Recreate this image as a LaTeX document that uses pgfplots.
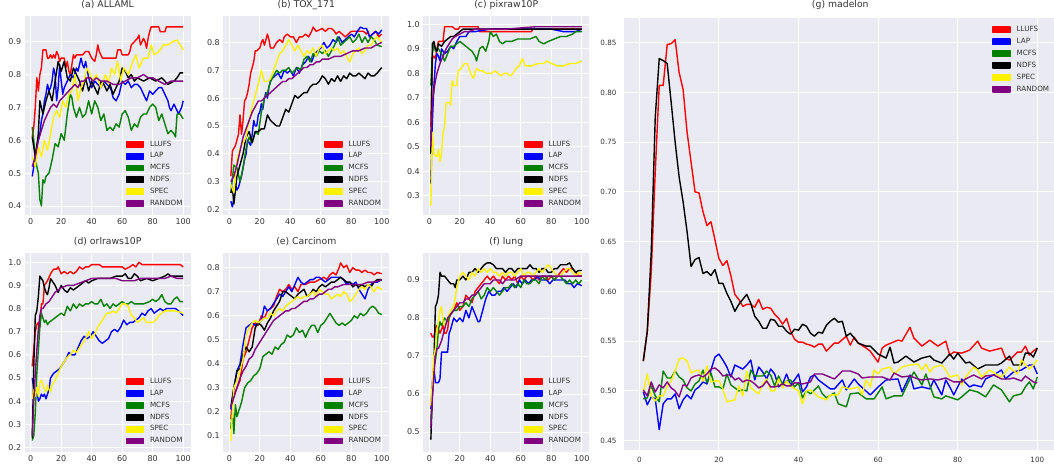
\documentclass[border=0pt]{standalone}
\usepackage{pgfplots}
\pgfplotsset{compat=1.18}
\usepackage{fontspec}
\setmainfont{DejaVu Sans}
\definecolor{sbbg}{HTML}{EAEAF2}
\definecolor{tickcol}{HTML}{333333}
\definecolor{mgreen}{HTML}{008000}
\definecolor{mpurple}{HTML}{800080}
\pgfplotsset{
  s1/.style={color=red}, s2/.style={color=blue}, s3/.style={color=mgreen},
  s4/.style={color=black}, s5/.style={color=yellow}, s6/.style={color=mpurple},
  sbbase/.style={
    scale only axis,
    axis background/.style={fill=sbbg},
    axis line style={draw=none},
    grid=major, major grid style={draw=white, line width=0.9pt},
    tick style={draw=none},
    xmin=-3.95, xmax=104.95, xtick={0,20,...,100},
    /pgf/number format/assume math mode=true,
    tick label style={text=tickcol},
    title style={at={(0.5,1)}, anchor=base, text=tickcol},
    legend cell align=left,
    legend image code/.code={\fill[#1] (0pt,-2.75pt) rectangle (17pt,2.75pt);},
    legend style={draw=none, fill=none, inner sep=0pt, outer sep=0pt,
      font=\fontsize{7.2}{8}\selectfont, text=tickcol,
      nodes={inner sep=0pt, text height=5.2pt, text depth=1.5pt},
      row sep=5pt, column sep=6pt},
    every axis plot/.append style={line width=1.4pt, line join=round, mark=none},
  },
  sb/.style={sbbase, width=166pt, height=199.5pt,
    tick label style={font=\fontsize{8}{9}\selectfont},
    y tick label style={/pgf/number format/.cd, fixed, fixed zerofill, precision=1, /tikz/.cd},
    title style={yshift=2.5pt, font=\fontsize{9.3}{11}\selectfont},
    legend style={at={(0.608,0.373)}, anchor=north west},
  },
}
\begin{document}
\begin{tikzpicture}
\useasboundingbox (0,0) rectangle (1054pt,465pt);
% (a)
\begin{axis}[sb, at={(24.7pt,249.8pt)}, anchor=south west, title={(a) ALLAML},
  ymin=0.372, ymax=0.979, ytick={0.4,0.5,...,0.9}]
\addplot[s1] coordinates {(1,0.61)(2,0.64)(3,0.70)(4,0.79)(5,0.75)(6,0.80)(7,0.82)(8,0.875)(10,0.875)(11,0.85)(12,0.85)(13,0.86)(14,0.85)(15,0.86)(16,0.85)(17,0.87)(18,0.86)(19,0.84)(20,0.85)(22,0.85)(23,0.82)(24,0.84)(25,0.81)(26,0.80)(27,0.83)(28,0.86)(29,0.85)(30,0.86)(32,0.86)(34,0.86)(36,0.87)(38,0.87)(40,0.85)(42,0.84)(43,0.86)(44,0.89)(45,0.87)(46,0.86)(47,0.85)(56,0.85)(57,0.875)(59,0.875)(60,0.86)(64,0.86)(65,0.87)(66,0.89)(68,0.90)(70,0.91)(71,0.92)(72,0.89)(74,0.91)(75,0.90)(76,0.88)(77,0.91)(78,0.93)(79,0.945)(84,0.945)(85,0.93)(88,0.93)(89,0.945)(100,0.945)};
\addplot[s2] coordinates {(1,0.49)(2,0.52)(3,0.55)(4,0.58)(5,0.60)(6,0.62)(7,0.66)(8,0.68)(9,0.72)(10,0.74)(11,0.77)(12,0.75)(13,0.76)(14,0.78)(15,0.82)(16,0.80)(17,0.72)(18,0.76)(19,0.83)(20,0.78)(21,0.74)(22,0.76)(24,0.78)(26,0.80)(28,0.79)(30,0.82)(31,0.81)(33,0.85)(34,0.83)(35,0.82)(36,0.84)(38,0.79)(40,0.76)(42,0.78)(44,0.77)(46,0.76)(48,0.78)(50,0.77)(52,0.76)(53,0.75)(54,0.73)(56,0.72)(58,0.74)(60,0.78)(62,0.77)(64,0.78)(66,0.76)(68,0.77)(70,0.77)(72,0.76)(74,0.74)(76,0.72)(78,0.75)(80,0.74)(82,0.75)(84,0.76)(86,0.76)(88,0.74)(90,0.72)(91,0.70)(92,0.69)(94,0.71)(96,0.69)(97,0.68)(99,0.70)(100,0.72)};
\addplot[s3] coordinates {(1,0.64)(2,0.60)(3,0.55)(4,0.52)(5,0.50)(6,0.42)(7,0.40)(8,0.48)(9,0.47)(10,0.49)(12,0.50)(14,0.54)(16,0.59)(18,0.58)(20,0.62)(22,0.60)(24,0.68)(26,0.74)(27,0.73)(28,0.70)(30,0.67)(32,0.70)(34,0.67)(36,0.68)(38,0.72)(40,0.68)(42,0.72)(44,0.70)(46,0.66)(48,0.68)(50,0.63)(52,0.64)(54,0.63)(56,0.65)(58,0.64)(60,0.68)(62,0.69)(64,0.67)(66,0.63)(68,0.65)(70,0.64)(72,0.67)(74,0.68)(76,0.68)(78,0.70)(80,0.71)(82,0.70)(84,0.66)(86,0.68)(88,0.65)(90,0.62)(92,0.63)(94,0.62)(95,0.61)(96,0.68)(98,0.68)(100,0.665)};
\addplot[s4] coordinates {(1,0.61)(3,0.55)(5,0.62)(6,0.72)(8,0.68)(10,0.72)(12,0.75)(14,0.72)(16,0.78)(18,0.84)(20,0.81)(22,0.84)(24,0.79)(26,0.78)(28,0.82)(30,0.80)(32,0.78)(34,0.75)(36,0.79)(38,0.75)(40,0.78)(42,0.76)(44,0.74)(46,0.78)(48,0.77)(50,0.75)(52,0.77)(54,0.74)(56,0.76)(58,0.78)(60,0.82)(62,0.81)(64,0.79)(66,0.80)(68,0.78)(70,0.79)(74,0.78)(78,0.79)(82,0.78)(86,0.79)(90,0.77)(94,0.78)(96,0.79)(98,0.805)(100,0.805)};
\addplot[s5] coordinates {(1,0.55)(3,0.52)(5,0.58)(7,0.55)(9,0.60)(11,0.57)(13,0.62)(15,0.67)(17,0.69)(19,0.67)(21,0.72)(23,0.70)(25,0.74)(27,0.75)(29,0.80)(31,0.72)(33,0.76)(35,0.78)(37,0.82)(39,0.80)(41,0.78)(43,0.80)(46,0.76)(49,0.80)(51,0.77)(53,0.82)(55,0.80)(57,0.84)(59,0.78)(61,0.82)(64,0.80)(67,0.84)(69,0.86)(71,0.82)(74,0.85)(77,0.85)(79,0.89)(81,0.86)(84,0.87)(87,0.89)(90,0.89)(93,0.90)(96,0.905)(98,0.89)(100,0.875)};
\addplot[s6] coordinates {(1,0.52)(3,0.55)(5,0.60)(7,0.63)(9,0.66)(11,0.68)(13,0.70)(15,0.71)(17,0.70)(19,0.72)(21,0.73)(23,0.74)(25,0.75)(27,0.76)(29,0.77)(31,0.76)(33,0.78)(35,0.78)(37,0.79)(39,0.79)(41,0.78)(43,0.79)(46,0.78)(50,0.78)(54,0.77)(58,0.77)(62,0.78)(66,0.79)(70,0.79)(74,0.80)(77,0.79)(80,0.79)(84,0.78)(88,0.77)(92,0.78)(96,0.78)(100,0.78)};
\legend{LLUFS,LAP,MCFS,NDFS,SPEC,RANDOM}
\end{axis}
% (b)
\begin{axis}[sb, at={(223.3pt,249.8pt)}, anchor=south west, title={(b) TOX\_171},
  ymin=0.18, ymax=0.896, ytick={0.2,0.3,...,0.8}]
\addplot[s1] coordinates {(1,0.32)(2,0.41)(3,0.42)(4,0.43)(5,0.45)(6,0.47)(7,0.54)(8,0.47)(9,0.52)(10,0.59)(11,0.60)(12,0.62)(13,0.65)(14,0.69)(15,0.71)(16,0.73)(17,0.77)(18,0.77)(20,0.78)(21,0.80)(22,0.81)(23,0.79)(24,0.81)(25,0.83)(26,0.81)(27,0.78)(29,0.78)(30,0.79)(31,0.80)(33,0.81)(35,0.80)(36,0.82)(38,0.83)(40,0.82)(42,0.82)(44,0.80)(46,0.82)(48,0.82)(50,0.83)(52,0.82)(54,0.84)(55,0.855)(57,0.84)(59,0.845)(61,0.85)(63,0.84)(65,0.85)(67,0.85)(69,0.84)(70,0.83)(72,0.84)(74,0.83)(76,0.82)(78,0.83)(80,0.84)(82,0.84)(84,0.84)(86,0.84)(88,0.84)(90,0.83)(91,0.84)(92,0.82)(94,0.83)(96,0.84)(98,0.82)(100,0.83)};
\addplot[s2] coordinates {(1,0.23)(2,0.21)(3,0.24)(4,0.29)(5,0.27)(6,0.28)(7,0.30)(8,0.32)(9,0.35)(10,0.38)(11,0.40)(12,0.45)(13,0.44)(14,0.43)(15,0.47)(16,0.52)(17,0.50)(18,0.50)(19,0.54)(20,0.55)(21,0.58)(22,0.56)(23,0.60)(24,0.62)(25,0.60)(26,0.64)(27,0.66)(28,0.67)(30,0.68)(32,0.69)(34,0.67)(36,0.70)(38,0.69)(40,0.70)(42,0.68)(44,0.71)(46,0.69)(48,0.72)(50,0.73)(52,0.75)(54,0.73)(56,0.76)(58,0.77)(60,0.78)(62,0.80)(64,0.78)(66,0.79)(68,0.81)(70,0.80)(72,0.82)(74,0.80)(76,0.81)(78,0.82)(80,0.83)(82,0.82)(84,0.84)(86,0.855)(88,0.85)(90,0.85)(92,0.82)(94,0.83)(96,0.84)(98,0.83)(100,0.845)};
\addplot[s3] coordinates {(1,0.26)(3,0.36)(5,0.35)(7,0.30)(9,0.35)(11,0.42)(13,0.46)(15,0.44)(17,0.48)(19,0.47)(21,0.55)(23,0.60)(25,0.62)(27,0.66)(29,0.68)(31,0.70)(33,0.69)(35,0.70)(37,0.70)(39,0.71)(41,0.69)(43,0.70)(45,0.71)(47,0.70)(49,0.74)(51,0.75)(53,0.73)(55,0.76)(57,0.75)(59,0.77)(61,0.76)(63,0.77)(65,0.75)(67,0.77)(69,0.79)(71,0.82)(73,0.79)(75,0.80)(77,0.81)(79,0.82)(81,0.80)(83,0.81)(85,0.83)(87,0.80)(89,0.82)(91,0.80)(93,0.82)(95,0.81)(97,0.79)(100,0.785)};
\addplot[s4] coordinates {(1,0.26)(2,0.28)(3,0.22)(5,0.32)(7,0.36)(9,0.40)(11,0.46)(13,0.48)(15,0.44)(17,0.48)(19,0.48)(21,0.49)(23,0.49)(25,0.54)(27,0.52)(29,0.51)(31,0.50)(33,0.50)(35,0.53)(37,0.56)(39,0.55)(41,0.58)(43,0.61)(45,0.60)(47,0.61)(49,0.62)(51,0.62)(53,0.64)(55,0.65)(57,0.65)(59,0.66)(61,0.68)(63,0.67)(65,0.65)(67,0.67)(69,0.66)(71,0.68)(73,0.66)(75,0.68)(77,0.67)(79,0.69)(81,0.68)(83,0.68)(85,0.69)(87,0.68)(89,0.67)(91,0.69)(93,0.68)(95,0.68)(97,0.69)(100,0.71)};
\addplot[s5] coordinates {(1,0.29)(3,0.26)(5,0.38)(7,0.42)(9,0.44)(11,0.46)(13,0.52)(15,0.57)(17,0.61)(19,0.65)(21,0.70)(23,0.66)(25,0.66)(27,0.67)(29,0.70)(31,0.73)(33,0.76)(35,0.77)(37,0.79)(39,0.81)(41,0.79)(43,0.77)(45,0.79)(47,0.77)(49,0.75)(51,0.77)(53,0.76)(55,0.78)(57,0.75)(59,0.78)(61,0.79)(63,0.76)(65,0.77)(67,0.78)(69,0.77)(71,0.78)(73,0.76)(75,0.77)(77,0.75)(79,0.73)(81,0.76)(83,0.77)(85,0.78)(87,0.76)(89,0.77)(91,0.79)(93,0.79)(95,0.81)(97,0.82)(100,0.80)};
\addplot[s6] coordinates {(1,0.30)(3,0.32)(5,0.36)(7,0.41)(9,0.46)(11,0.49)(13,0.52)(15,0.55)(17,0.57)(19,0.59)(21,0.59)(23,0.60)(25,0.61)(27,0.62)(29,0.63)(31,0.64)(33,0.65)(35,0.66)(37,0.66)(39,0.67)(41,0.67)(43,0.68)(45,0.69)(47,0.70)(49,0.71)(51,0.71)(53,0.72)(55,0.72)(57,0.73)(59,0.73)(61,0.74)(65,0.74)(69,0.75)(73,0.75)(77,0.76)(81,0.77)(85,0.77)(89,0.78)(93,0.78)(96,0.79)(100,0.80)};
\legend{LLUFS,LAP,MCFS,NDFS,SPEC,RANDOM}
\end{axis}
% (c)
\begin{axis}[sb, at={(423.3pt,249.8pt)}, anchor=south west, title={(c) pixraw10P},
  ymin=0.221, ymax=1.035, ytick={0.3,0.4,...,1.0}]
\addplot[s1] coordinates {(1,0.58)(2,0.86)(3,0.87)(4,0.86)(5,0.90)(6,0.93)(9,0.93)(10,0.99)(15,0.99)(17,0.98)(19,0.98)(20,0.99)(25,0.99)(32,0.99)(33,0.97)(67,0.97)(68,0.98)(100,0.98)};
\addplot[s2] coordinates {(1,0.35)(2,0.60)(3,0.75)(4,0.84)(5,0.88)(6,0.87)(7,0.85)(8,0.90)(10,0.88)(12,0.89)(14,0.91)(16,0.90)(18,0.93)(20,0.95)(22,0.95)(24,0.95)(26,0.97)(30,0.97)(40,0.98)(60,0.98)(80,0.98)(88,0.97)(92,0.97)(96,0.97)(100,0.98)};
\addplot[s3] coordinates {(1,0.75)(2,0.88)(3,0.92)(4,0.89)(6,0.90)(8,0.88)(10,0.85)(12,0.88)(14,0.91)(16,0.91)(18,0.92)(20,0.93)(22,0.92)(24,0.91)(26,0.90)(28,0.89)(30,0.87)(31,0.85)(33,0.90)(35,0.91)(37,0.89)(39,0.93)(40,0.97)(42,0.95)(44,0.96)(46,0.93)(48,0.92)(50,0.93)(54,0.93)(58,0.94)(62,0.94)(66,0.94)(70,0.95)(72,0.93)(75,0.92)(78,0.93)(82,0.94)(86,0.95)(90,0.95)(94,0.96)(96,0.97)(100,0.97)};
\addplot[s4] coordinates {(1,0.47)(2,0.92)(3,0.93)(4,0.90)(5,0.89)(6,0.92)(8,0.91)(10,0.93)(12,0.94)(14,0.95)(16,0.95)(18,0.96)(20,0.97)(22,0.98)(30,0.98)(40,0.98)(50,0.98)(60,0.98)(70,0.98)(80,0.98)(90,0.98)(100,0.98)};
\addplot[s5] coordinates {(1,0.26)(2,0.56)(3,0.47)(5,0.46)(6,0.49)(7,0.44)(8,0.47)(9,0.56)(10,0.58)(11,0.68)(13,0.68)(14,0.67)(15,0.77)(16,0.75)(18,0.75)(19,0.81)(21,0.82)(23,0.84)(25,0.84)(27,0.80)(29,0.78)(31,0.82)(33,0.81)(35,0.81)(37,0.80)(39,0.80)(41,0.80)(43,0.81)(45,0.80)(47,0.79)(49,0.80)(51,0.80)(53,0.79)(55,0.80)(57,0.82)(59,0.83)(61,0.86)(63,0.83)(67,0.83)(71,0.84)(75,0.84)(77,0.85)(80,0.84)(84,0.83)(88,0.83)(92,0.84)(96,0.84)(100,0.85)};
\addplot[s6] coordinates {(1,0.50)(2,0.68)(3,0.73)(4,0.77)(5,0.80)(7,0.84)(9,0.87)(11,0.90)(13,0.92)(15,0.94)(17,0.95)(20,0.96)(23,0.97)(26,0.97)(30,0.98)(40,0.98)(50,0.98)(60,0.985)(70,0.99)(80,0.99)(90,0.99)(100,0.99)};
\legend{LLUFS,LAP,MCFS,NDFS,SPEC,RANDOM}
\end{axis}
% (d)
\begin{axis}[sb, at={(24.7pt,12.5pt)}, anchor=south west, title={(d) orlraws10P},
  ymin=0.178, ymax=1.040, ytick={0.2,0.3,...,1.0}]
\addplot[s1] coordinates {(1,0.55)(2,0.62)(3,0.70)(4,0.73)(5,0.74)(6,0.72)(7,0.82)(8,0.82)(9,0.90)(11,0.92)(13,0.95)(15,0.97)(17,0.97)(18,0.98)(20,0.95)(22,0.96)(24,0.95)(26,0.96)(28,0.95)(30,0.96)(32,0.98)(34,0.97)(36,0.98)(38,0.98)(40,0.99)(45,0.99)(47,0.98)(55,0.98)(60,0.98)(62,0.97)(65,0.98)(67,0.99)(69,0.98)(71,1.0)(73,0.99)(80,0.99)(90,0.99)(98,0.99)(100,0.98)};
\addplot[s2] coordinates {(1,0.50)(2,0.46)(3,0.43)(4,0.45)(5,0.40)(6,0.41)(7,0.43)(8,0.42)(9,0.43)(10,0.41)(11,0.43)(12,0.45)(13,0.50)(15,0.52)(17,0.53)(19,0.54)(21,0.56)(23,0.58)(25,0.61)(27,0.60)(29,0.60)(31,0.63)(33,0.66)(35,0.68)(37,0.67)(39,0.68)(41,0.70)(43,0.68)(45,0.66)(47,0.65)(49,0.66)(51,0.67)(53,0.70)(55,0.71)(57,0.70)(59,0.72)(61,0.75)(63,0.73)(65,0.74)(67,0.74)(69,0.75)(71,0.76)(73,0.78)(75,0.77)(77,0.79)(79,0.80)(81,0.78)(83,0.79)(85,0.80)(87,0.79)(89,0.80)(91,0.80)(93,0.80)(95,0.80)(97,0.79)(100,0.77)};
\addplot[s3] coordinates {(1,0.23)(2,0.25)(3,0.35)(4,0.52)(5,0.62)(6,0.72)(7,0.78)(8,0.76)(9,0.74)(10,0.75)(11,0.73)(12,0.74)(14,0.75)(16,0.76)(18,0.77)(20,0.78)(22,0.77)(24,0.81)(26,0.79)(28,0.82)(30,0.80)(32,0.82)(34,0.81)(36,0.82)(38,0.82)(40,0.83)(42,0.82)(44,0.82)(46,0.84)(48,0.81)(50,0.82)(52,0.80)(54,0.82)(56,0.81)(58,0.82)(60,0.83)(62,0.82)(64,0.82)(66,0.83)(68,0.82)(70,0.82)(74,0.82)(78,0.83)(80,0.84)(82,0.83)(84,0.84)(86,0.86)(88,0.83)(90,0.82)(92,0.82)(94,0.84)(96,0.85)(98,0.83)(100,0.83)};
\addplot[s4] coordinates {(1,0.24)(2,0.55)(3,0.77)(4,0.79)(5,0.85)(6,0.94)(7,0.93)(8,0.92)(9,0.89)(10,0.87)(11,0.86)(12,0.89)(13,0.93)(14,0.92)(16,0.90)(18,0.87)(20,0.90)(22,0.88)(24,0.87)(26,0.89)(28,0.88)(30,0.89)(32,0.90)(34,0.91)(36,0.92)(38,0.91)(40,0.92)(44,0.93)(48,0.93)(52,0.93)(56,0.94)(60,0.94)(62,0.95)(64,0.93)(66,0.93)(68,0.95)(70,0.94)(72,0.92)(76,0.93)(80,0.92)(84,0.93)(88,0.94)(90,0.95)(92,0.94)(96,0.94)(100,0.94)};
\addplot[s5] coordinates {(1,0.41)(2,0.45)(3,0.42)(4,0.46)(5,0.42)(6,0.48)(7,0.49)(8,0.47)(9,0.45)(10,0.44)(11,0.47)(12,0.45)(13,0.44)(14,0.47)(16,0.49)(18,0.52)(20,0.55)(22,0.57)(24,0.59)(26,0.60)(28,0.62)(30,0.61)(32,0.63)(34,0.65)(36,0.67)(38,0.70)(40,0.67)(42,0.69)(44,0.72)(46,0.74)(48,0.76)(50,0.78)(52,0.78)(54,0.79)(56,0.78)(58,0.80)(60,0.82)(62,0.82)(64,0.81)(66,0.77)(68,0.76)(70,0.74)(72,0.75)(74,0.76)(76,0.74)(78,0.74)(80,0.74)(82,0.75)(84,0.77)(86,0.78)(88,0.79)(90,0.79)(95,0.79)(100,0.78)};
\addplot[s6] coordinates {(1,0.25)(2,0.40)(3,0.52)(4,0.62)(5,0.71)(6,0.77)(7,0.80)(8,0.80)(10,0.82)(12,0.83)(14,0.85)(16,0.87)(18,0.88)(20,0.89)(24,0.90)(28,0.90)(32,0.91)(36,0.92)(40,0.93)(44,0.93)(48,0.93)(52,0.93)(56,0.93)(60,0.92)(64,0.92)(68,0.92)(72,0.93)(76,0.93)(80,0.93)(84,0.93)(88,0.93)(92,0.94)(96,0.93)(100,0.93)};
\legend{LLUFS,LAP,MCFS,NDFS,SPEC,RANDOM}
\end{axis}
% (e)
\begin{axis}[sb, at={(223.3pt,12.5pt)}, anchor=south west, title={(e) Carcinom},
  ymin=0.031, ymax=0.861, ytick={0.1,0.2,...,0.8}]
\addplot[s1] coordinates {(1,0.17)(2,0.25)(3,0.27)(5,0.30)(7,0.33)(9,0.42)(11,0.45)(13,0.50)(15,0.55)(17,0.57)(19,0.56)(21,0.60)(23,0.59)(25,0.62)(27,0.63)(29,0.64)(31,0.68)(33,0.71)(35,0.70)(37,0.71)(39,0.73)(41,0.71)(43,0.72)(45,0.70)(47,0.73)(50,0.73)(53,0.74)(56,0.74)(59,0.75)(62,0.76)(64,0.75)(66,0.77)(68,0.78)(70,0.77)(72,0.80)(73,0.82)(75,0.80)(77,0.81)(79,0.78)(81,0.80)(83,0.79)(85,0.79)(87,0.78)(89,0.79)(91,0.78)(93,0.78)(95,0.77)(97,0.78)(100,0.775)};
\addplot[s2] coordinates {(1,0.21)(3,0.30)(5,0.37)(7,0.40)(9,0.48)(11,0.55)(13,0.56)(15,0.57)(17,0.56)(19,0.57)(21,0.58)(23,0.64)(25,0.62)(27,0.63)(29,0.65)(31,0.67)(33,0.69)(35,0.68)(37,0.70)(39,0.72)(41,0.70)(43,0.73)(45,0.76)(47,0.74)(49,0.73)(51,0.74)(53,0.75)(55,0.75)(57,0.76)(59,0.76)(61,0.75)(63,0.74)(65,0.75)(67,0.76)(69,0.76)(71,0.76)(73,0.76)(75,0.75)(77,0.73)(79,0.74)(81,0.73)(83,0.74)(85,0.71)(87,0.69)(89,0.67)(91,0.71)(93,0.73)(95,0.74)(97,0.74)(100,0.75)};
\addplot[s3] coordinates {(1,0.13)(2,0.20)(3,0.11)(4,0.23)(5,0.18)(6,0.20)(8,0.24)(10,0.30)(12,0.32)(14,0.33)(16,0.35)(18,0.36)(20,0.38)(22,0.43)(24,0.44)(26,0.45)(28,0.44)(30,0.47)(32,0.46)(34,0.48)(36,0.49)(38,0.52)(40,0.51)(42,0.52)(44,0.55)(46,0.53)(48,0.54)(50,0.51)(52,0.54)(54,0.56)(56,0.56)(58,0.53)(60,0.56)(62,0.57)(64,0.59)(66,0.61)(68,0.59)(70,0.57)(72,0.56)(74,0.57)(76,0.56)(78,0.57)(80,0.58)(82,0.60)(84,0.59)(86,0.61)(88,0.60)(90,0.61)(92,0.63)(94,0.64)(96,0.63)(98,0.61)(100,0.605)};
\addplot[s4] coordinates {(1,0.22)(3,0.30)(5,0.37)(7,0.38)(9,0.44)(11,0.47)(13,0.45)(15,0.47)(17,0.55)(19,0.57)(21,0.56)(23,0.54)(25,0.57)(27,0.59)(29,0.62)(31,0.64)(33,0.66)(35,0.70)(37,0.70)(39,0.69)(41,0.68)(43,0.67)(45,0.69)(47,0.70)(49,0.71)(51,0.68)(53,0.69)(55,0.71)(57,0.70)(59,0.72)(61,0.73)(63,0.72)(65,0.73)(67,0.74)(69,0.74)(71,0.75)(73,0.76)(75,0.75)(77,0.74)(79,0.74)(81,0.72)(83,0.73)(85,0.72)(87,0.73)(89,0.72)(91,0.73)(93,0.72)(95,0.74)(97,0.75)(100,0.75)};
\addplot[s5] coordinates {(1,0.08)(2,0.20)(3,0.30)(5,0.33)(7,0.37)(9,0.42)(11,0.52)(13,0.55)(15,0.57)(17,0.58)(19,0.57)(21,0.58)(23,0.59)(25,0.59)(27,0.61)(29,0.60)(31,0.62)(33,0.63)(35,0.62)(37,0.64)(39,0.65)(41,0.66)(43,0.67)(45,0.68)(47,0.67)(49,0.68)(51,0.68)(53,0.69)(55,0.70)(57,0.68)(59,0.71)(61,0.70)(63,0.69)(65,0.69)(67,0.67)(69,0.68)(71,0.69)(73,0.68)(75,0.70)(77,0.69)(79,0.66)(81,0.67)(83,0.69)(85,0.71)(87,0.72)(89,0.71)(91,0.73)(93,0.72)(95,0.70)(97,0.72)(100,0.71)};
\addplot[s6] coordinates {(1,0.22)(3,0.26)(5,0.30)(7,0.34)(9,0.37)(11,0.39)(13,0.42)(15,0.43)(17,0.46)(19,0.48)(21,0.50)(23,0.52)(25,0.54)(27,0.56)(29,0.58)(31,0.59)(33,0.60)(35,0.61)(37,0.62)(39,0.62)(41,0.63)(43,0.63)(45,0.64)(47,0.65)(49,0.66)(51,0.66)(53,0.67)(55,0.67)(57,0.68)(59,0.69)(61,0.69)(63,0.70)(65,0.71)(67,0.71)(69,0.72)(71,0.72)(75,0.73)(79,0.73)(83,0.73)(87,0.73)(91,0.74)(95,0.74)(100,0.75)};
\legend{LLUFS,LAP,MCFS,NDFS,SPEC,RANDOM}
\end{axis}
% (f)
\begin{axis}[sb, at={(423.3pt,12.5pt)}, anchor=south west, title={(f) lung},
  ymin=0.446, ymax=0.971, ytick={0.5,0.6,...,0.9}]
\addplot[s1] coordinates {(1,0.76)(2,0.75)(3,0.75)(4,0.77)(5,0.78)(6,0.77)(7,0.76)(8,0.77)(9,0.78)(10,0.76)(11,0.76)(12,0.77)(13,0.80)(14,0.81)(16,0.82)(18,0.84)(20,0.82)(22,0.83)(24,0.86)(26,0.85)(28,0.84)(30,0.87)(32,0.88)(34,0.89)(36,0.90)(38,0.91)(40,0.90)(42,0.91)(44,0.90)(46,0.89)(48,0.91)(50,0.90)(52,0.91)(54,0.90)(56,0.91)(58,0.89)(60,0.91)(62,0.90)(64,0.91)(66,0.91)(68,0.90)(70,0.91)(72,0.90)(74,0.91)(76,0.91)(78,0.90)(80,0.91)(82,0.90)(84,0.91)(86,0.92)(88,0.93)(90,0.92)(92,0.93)(94,0.93)(96,0.92)(98,0.91)(100,0.91)};
\addplot[s2] coordinates {(1,0.56)(2,0.63)(3,0.67)(4,0.63)(5,0.63)(6,0.63)(7,0.64)(8,0.71)(10,0.71)(12,0.71)(13,0.76)(14,0.77)(16,0.80)(18,0.79)(20,0.80)(22,0.79)(24,0.82)(26,0.80)(28,0.83)(30,0.81)(32,0.79)(33,0.79)(35,0.82)(37,0.85)(39,0.87)(41,0.86)(43,0.86)(45,0.87)(47,0.87)(49,0.88)(51,0.87)(53,0.88)(55,0.89)(57,0.88)(59,0.90)(61,0.89)(63,0.90)(65,0.89)(67,0.90)(69,0.90)(71,0.91)(73,0.90)(75,0.90)(77,0.90)(79,0.89)(81,0.90)(83,0.90)(85,0.90)(87,0.90)(89,0.90)(91,0.89)(93,0.89)(95,0.88)(97,0.89)(100,0.885)};
\addplot[s3] coordinates {(1,0.53)(2,0.60)(3,0.67)(4,0.69)(5,0.72)(6,0.77)(7,0.79)(8,0.78)(10,0.80)(12,0.79)(14,0.81)(16,0.82)(18,0.82)(20,0.83)(22,0.83)(24,0.84)(26,0.83)(28,0.85)(30,0.86)(32,0.87)(34,0.85)(36,0.86)(38,0.88)(40,0.87)(42,0.88)(44,0.87)(46,0.86)(48,0.87)(50,0.88)(52,0.88)(54,0.89)(56,0.88)(58,0.89)(60,0.88)(62,0.90)(64,0.89)(66,0.89)(68,0.90)(70,0.90)(72,0.89)(74,0.91)(76,0.90)(78,0.91)(80,0.91)(82,0.90)(84,0.91)(86,0.91)(88,0.90)(90,0.89)(92,0.90)(94,0.89)(96,0.90)(98,0.89)(100,0.90)};
\addplot[s4] coordinates {(1,0.48)(2,0.60)(3,0.68)(4,0.83)(5,0.84)(6,0.86)(7,0.92)(8,0.91)(10,0.91)(12,0.90)(14,0.89)(16,0.89)(17,0.88)(18,0.90)(20,0.90)(22,0.91)(24,0.90)(26,0.92)(28,0.92)(30,0.93)(32,0.92)(34,0.93)(36,0.94)(38,0.945)(40,0.945)(42,0.94)(44,0.93)(46,0.93)(48,0.93)(50,0.92)(52,0.93)(54,0.93)(56,0.92)(58,0.93)(60,0.93)(62,0.93)(64,0.93)(66,0.94)(68,0.93)(70,0.93)(72,0.92)(74,0.93)(76,0.93)(78,0.92)(80,0.92)(82,0.93)(84,0.93)(86,0.94)(88,0.94)(90,0.94)(92,0.945)(94,0.93)(96,0.92)(98,0.925)(100,0.925)};
\addplot[s5] coordinates {(1,0.57)(2,0.63)(3,0.70)(4,0.72)(5,0.77)(6,0.79)(7,0.82)(8,0.83)(9,0.79)(10,0.78)(12,0.80)(14,0.82)(16,0.83)(18,0.88)(20,0.91)(22,0.92)(24,0.91)(26,0.90)(28,0.92)(30,0.91)(32,0.93)(34,0.92)(36,0.93)(38,0.92)(40,0.93)(42,0.92)(44,0.92)(46,0.91)(48,0.92)(50,0.91)(52,0.92)(54,0.92)(56,0.91)(58,0.92)(60,0.93)(62,0.91)(64,0.92)(66,0.92)(68,0.91)(70,0.92)(72,0.93)(74,0.92)(76,0.93)(78,0.94)(80,0.93)(82,0.92)(84,0.91)(86,0.91)(88,0.92)(90,0.93)(92,0.93)(94,0.92)(96,0.91)(98,0.92)(100,0.915)};
\addplot[s6] coordinates {(1,0.51)(2,0.59)(3,0.65)(4,0.70)(5,0.72)(6,0.72)(7,0.73)(8,0.74)(10,0.77)(12,0.80)(14,0.81)(16,0.82)(18,0.83)(20,0.84)(22,0.84)(24,0.85)(26,0.85)(28,0.86)(30,0.86)(32,0.87)(34,0.88)(36,0.89)(38,0.89)(40,0.89)(42,0.90)(44,0.90)(46,0.90)(48,0.89)(50,0.90)(52,0.90)(56,0.90)(60,0.91)(64,0.91)(68,0.91)(72,0.91)(76,0.91)(80,0.91)(84,0.91)(88,0.91)(92,0.91)(96,0.91)(100,0.91)};
\legend{LLUFS,LAP,MCFS,NDFS,SPEC,RANDOM}
\end{axis}
% (g)
\begin{axis}[sbbase, at={(623.6pt,15pt)}, anchor=south west, width=433.4pt, height=431.7pt,
  title={(g) madelon},
  title style={yshift=4.8pt, font=\fontsize{9.3}{11}\selectfont},
  tick label style={font=\fontsize{7.2}{8}\selectfont},
  y tick label style={/pgf/number format/.cd, fixed, fixed zerofill, precision=2, /tikz/.cd, xshift=-3.6pt},
  x tick label style={yshift=-4pt},
  ymin=0.4406, ymax=0.8745, ytick={0.45,0.5,0.55,0.6,0.65,0.7,0.75,0.8,0.85},
  legend style={at={(0.8507,0.9815)}, anchor=north west}]
\addplot[s1] coordinates {(1,0.53)(2,0.56)(3,0.62)(4,0.72)(5,0.807)(6,0.807)(7,0.848)(8,0.849)(9,0.853)(10,0.82)(11,0.803)(12,0.76)(13,0.73)(14,0.70)(15,0.699)(16,0.68)(17,0.666)(18,0.670)(19,0.652)(20,0.633)(21,0.626)(22,0.631)(23,0.616)(24,0.597)(25,0.592)(26,0.585)(27,0.587)(28,0.587)(29,0.584)(30,0.592)(31,0.582)(32,0.584)(33,0.583)(34,0.577)(35,0.573)(36,0.567)(37,0.573)(38,0.560)(39,0.552)(40,0.549)(41,0.549)(42,0.547)(43,0.546)(44,0.544)(45,0.547)(46,0.547)(47,0.540)(49,0.548)(50,0.548)(52,0.555)(53,0.546)(54,0.554)(55,0.548)(57,0.543)(58,0.540)(60,0.529)(61,0.543)(62,0.546)(65,0.551)(66,0.550)(68,0.564)(69,0.553)(71,0.545)(73,0.551)(75,0.545)(77,0.550)(78,0.536)(79,0.539)(81,0.538)(83,0.541)(85,0.550)(86,0.543)(88,0.540)(91,0.543)(92,0.533)(93,0.531)(95,0.539)(96,0.539)(97,0.545)(98,0.536)(99,0.540)(100,0.543)};
\addplot[s2] coordinates {(1,0.499)(2,0.486)(3,0.494)(4,0.492)(5,0.461)(6,0.487)(7,0.492)(8,0.492)(9,0.497)(10,0.482)(11,0.491)(12,0.496)(13,0.492)(14,0.501)(15,0.504)(16,0.509)(17,0.507)(18,0.521)(19,0.534)(20,0.537)(21,0.531)(22,0.524)(23,0.514)(24,0.526)(25,0.524)(26,0.522)(27,0.526)(28,0.531)(29,0.511)(30,0.524)(31,0.519)(32,0.512)(33,0.522)(34,0.517)(35,0.504)(36,0.507)(37,0.517)(38,0.506)(39,0.511)(40,0.517)(41,0.499)(42,0.504)(43,0.514)(44,0.516)(45,0.511)(47,0.505)(48,0.502)(49,0.502)(51,0.511)(52,0.501)(54,0.512)(55,0.507)(58,0.496)(60,0.504)(62,0.511)(65,0.512)(66,0.499)(68,0.516)(69,0.502)(71,0.504)(73,0.502)(74,0.511)(76,0.496)(77,0.511)(78,0.504)(79,0.496)(81,0.512)(83,0.504)(84,0.506)(86,0.504)(87,0.512)(89,0.516)(91,0.521)(92,0.512)(94,0.519)(96,0.521)(98,0.526)(99,0.526)(100,0.517)};
\addplot[s3] coordinates {(1,0.492)(2,0.493)(3,0.505)(4,0.495)(5,0.489)(6,0.520)(7,0.513)(8,0.513)(9,0.520)(10,0.514)(11,0.511)(12,0.503)(13,0.500)(14,0.507)(15,0.510)(16,0.521)(17,0.508)(18,0.518)(19,0.504)(20,0.504)(21,0.502)(22,0.517)(23,0.506)(24,0.503)(25,0.500)(26,0.501)(27,0.500)(28,0.521)(29,0.515)(30,0.515)(31,0.515)(32,0.520)(33,0.516)(34,0.505)(35,0.515)(36,0.506)(37,0.510)(38,0.511)(39,0.504)(40,0.508)(41,0.493)(42,0.500)(43,0.497)(45,0.505)(46,0.497)(47,0.493)(49,0.498)(50,0.487)(52,0.484)(53,0.497)(55,0.498)(57,0.492)(59,0.492)(61,0.504)(62,0.492)(64,0.495)(66,0.495)(68,0.512)(69,0.519)(71,0.506)(72,0.517)(74,0.494)(76,0.492)(77,0.495)(80,0.491)(81,0.494)(83,0.501)(85,0.499)(87,0.494)(89,0.506)(91,0.501)(93,0.489)(94,0.495)(96,0.497)(97,0.504)(98,0.509)(99,0.502)(100,0.514)};
\addplot[s4] coordinates {(1,0.53)(2,0.56)(3,0.64)(4,0.775)(5,0.834)(6,0.832)(7,0.829)(8,0.79)(9,0.75)(10,0.715)(11,0.69)(12,0.66)(13,0.625)(14,0.632)(15,0.634)(16,0.618)(17,0.620)(18,0.616)(19,0.622)(20,0.608)(21,0.608)(22,0.598)(23,0.590)(24,0.580)(25,0.587)(26,0.592)(27,0.597)(28,0.588)(29,0.575)(30,0.570)(31,0.563)(32,0.563)(33,0.572)(34,0.571)(35,0.565)(36,0.565)(37,0.560)(38,0.557)(39,0.562)(40,0.561)(41,0.567)(42,0.565)(43,0.558)(44,0.555)(45,0.559)(46,0.558)(47,0.566)(48,0.570)(49,0.573)(50,0.569)(51,0.570)(52,0.555)(53,0.558)(55,0.548)(57,0.545)(58,0.545)(60,0.537)(62,0.533)(63,0.544)(64,0.528)(65,0.529)(67,0.535)(69,0.529)(71,0.533)(73,0.535)(74,0.531)(76,0.528)(78,0.537)(79,0.532)(80,0.538)(82,0.528)(83,0.529)(85,0.522)(87,0.526)(90,0.526)(91,0.528)(93,0.535)(94,0.526)(96,0.526)(97,0.538)(98,0.538)(99,0.534)(100,0.543)};
\addplot[s5] coordinates {(1,0.499)(2,0.517)(3,0.495)(4,0.490)(5,0.495)(6,0.495)(7,0.505)(8,0.510)(9,0.520)(10,0.532)(11,0.533)(12,0.530)(13,0.518)(14,0.520)(15,0.521)(16,0.510)(17,0.525)(18,0.509)(19,0.510)(20,0.510)(21,0.502)(22,0.489)(23,0.490)(24,0.491)(25,0.505)(26,0.495)(27,0.520)(28,0.503)(29,0.500)(30,0.497)(31,0.507)(32,0.512)(33,0.500)(34,0.500)(35,0.512)(36,0.503)(37,0.510)(38,0.505)(39,0.502)(40,0.500)(41,0.487)(42,0.500)(43,0.501)(45,0.494)(47,0.491)(48,0.496)(50,0.496)(51,0.504)(53,0.502)(55,0.504)(56,0.496)(57,0.511)(58,0.504)(59,0.521)(60,0.517)(61,0.522)(63,0.524)(64,0.517)(66,0.524)(68,0.526)(70,0.527)(71,0.521)(72,0.527)(73,0.519)(74,0.524)(76,0.526)(77,0.521)(78,0.514)(80,0.516)(81,0.506)(82,0.514)(84,0.524)(85,0.521)(86,0.514)(88,0.521)(90,0.516)(91,0.514)(93,0.524)(95,0.517)(96,0.531)(98,0.522)(99,0.526)(100,0.531)};
\addplot[s6] coordinates {(1,0.501)(2,0.495)(3,0.509)(4,0.499)(5,0.506)(6,0.503)(7,0.509)(8,0.503)(9,0.500)(10,0.494)(11,0.506)(12,0.505)(13,0.513)(14,0.515)(15,0.516)(16,0.514)(17,0.517)(18,0.522)(19,0.523)(20,0.520)(21,0.515)(22,0.516)(23,0.516)(24,0.511)(25,0.513)(26,0.509)(27,0.511)(28,0.510)(29,0.507)(30,0.503)(31,0.505)(32,0.510)(33,0.504)(34,0.504)(35,0.505)(36,0.507)(37,0.505)(38,0.505)(39,0.508)(40,0.508)(41,0.507)(42,0.508)(43,0.509)(44,0.517)(46,0.517)(49,0.512)(51,0.520)(53,0.520)(55,0.517)(56,0.513)(58,0.514)(61,0.514)(63,0.511)(64,0.518)(66,0.514)(68,0.515)(70,0.512)(71,0.511)(73,0.512)(75,0.511)(77,0.513)(79,0.509)(81,0.509)(82,0.512)(84,0.516)(86,0.512)(87,0.515)(89,0.516)(91,0.512)(93,0.512)(94,0.513)(96,0.510)(97,0.515)(98,0.512)(99,0.509)(100,0.508)};
\legend{LLUFS,LAP,MCFS,NDFS,SPEC,RANDOM}
\end{axis}
\end{tikzpicture}
\end{document}
